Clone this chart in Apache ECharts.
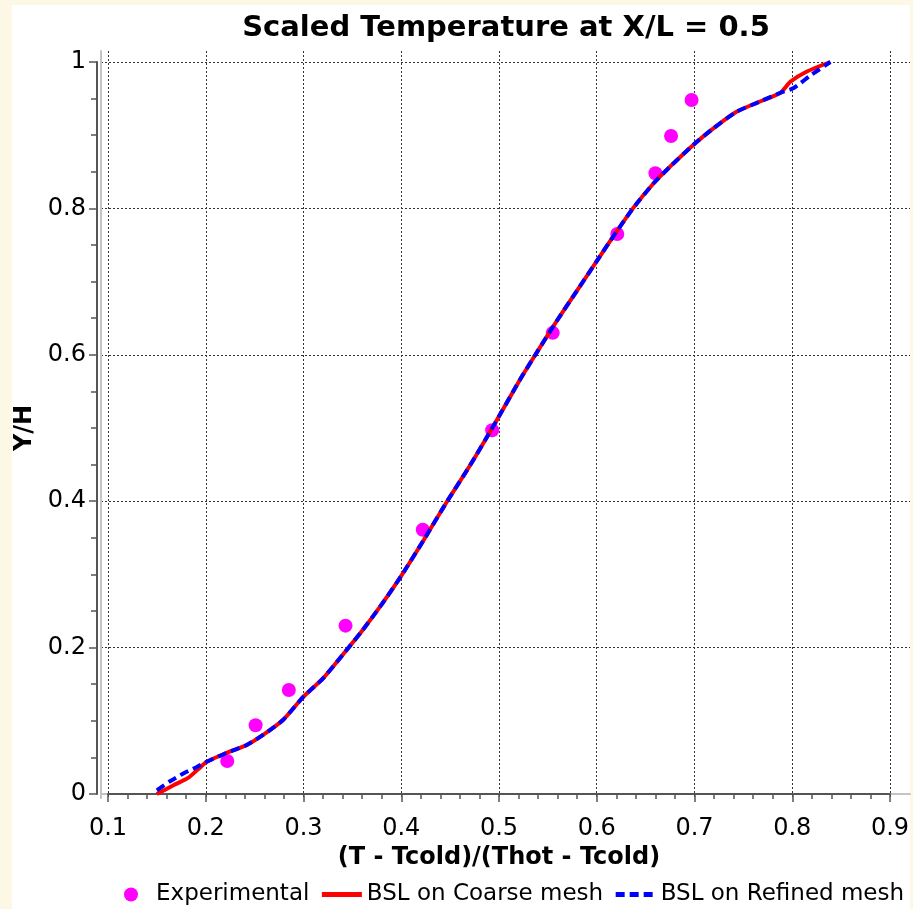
<!DOCTYPE html>
<html>
<head>
<meta charset="utf-8">
<script src="https://cdn.jsdelivr.net/npm/echarts@6/dist/echarts.min.js"></script>
<style>
html,body{margin:0;padding:0;background:#fdf8e6;}
#chart{width:913px;height:909px;}
</style>
</head>
<body>
<div id="chart"></div>
<script>
const titleText = 'Scaled Temperature at X/L = 0.5';
const xName = '(T - Tcold)/(Thot - Tcold)';
const yName = 'Y/H';
const seriesNames = ['Experimental', 'BSL on Coarse mesh', 'BSL on Refined mesh'];

const experimental = [
  [0.222, 0.045], [0.251, 0.094], [0.285, 0.142], [0.343, 0.230],
  [0.422, 0.361], [0.493, 0.497], [0.555, 0.630], [0.621, 0.765],
  [0.660, 0.848], [0.676, 0.899], [0.697, 0.948]
];

const coarse = [
  [0.150, 0.000], [0.167, 0.012], [0.182, 0.022], [0.194, 0.036], [0.201, 0.044],
  [0.221, 0.056], [0.242, 0.067], [0.259, 0.081], [0.279, 0.101], [0.300, 0.133],
  [0.320, 0.158], [0.340, 0.190], [0.360, 0.223], [0.380, 0.259], [0.400, 0.298],
  [0.423, 0.347], [0.447, 0.400], [0.470, 0.448], [0.494, 0.502], [0.521, 0.565],
  [0.540, 0.606], [0.557, 0.642], [0.580, 0.688], [0.600, 0.728], [0.614, 0.756],
  [0.637, 0.800], [0.658, 0.834], [0.675, 0.857], [0.699, 0.887], [0.719, 0.909],
  [0.743, 0.932], [0.767, 0.946], [0.788, 0.958], [0.798, 0.973], [0.815, 0.987],
  [0.839, 1.000]
];

const refined = [
  [0.150, 0.005], [0.163, 0.017], [0.177, 0.028], [0.191, 0.037], [0.201, 0.044],
  [0.221, 0.056], [0.242, 0.067], [0.259, 0.081], [0.279, 0.101], [0.300, 0.133],
  [0.320, 0.158], [0.340, 0.190], [0.360, 0.223], [0.380, 0.259], [0.400, 0.298],
  [0.423, 0.347], [0.447, 0.400], [0.470, 0.448], [0.494, 0.502], [0.521, 0.565],
  [0.540, 0.606], [0.557, 0.642], [0.580, 0.688], [0.600, 0.728], [0.614, 0.756],
  [0.637, 0.800], [0.658, 0.834], [0.675, 0.857], [0.699, 0.887], [0.719, 0.909],
  [0.743, 0.932], [0.767, 0.946], [0.788, 0.958], [0.801, 0.964], [0.818, 0.981],
  [0.839, 1.000]
];

const FONT = 'DejaVu Sans';
const gridLine = { show: true, showMinLine: false, showMaxLine: false,
  lineStyle: { color: '#333', width: 1, type: [2, 2] } };
const noSymbol = { color: 'rgba(0,0,0,0)', borderWidth: 0, borderColor: 'rgba(0,0,0,0)' };

const chart = echarts.init(document.getElementById('chart'), null, { renderer: 'canvas' });
chart.setOption({
  backgroundColor: '#fdf8e6',
  animation: false,
  graphic: [{
    type: 'rect', z: -10, silent: true,
    shape: { x: 12, y: 5, width: 898, height: 904 },
    style: { fill: '#ffffff' }
  }],
  title: {
    text: titleText, left: 501, top: 9, textAlign: 'center',
    textStyle: { fontFamily: FONT, fontWeight: 'bold', fontSize: 29, color: '#000' }
  },
  legend: {
    left: 124, top: 883, width: 820, padding: 0,
    itemWidth: 40, itemHeight: 14, itemGap: 10,
    data: [
      { name: seriesNames[0] },
      { name: seriesNames[1], itemStyle: noSymbol, lineStyle: { width: 5 } },
      { name: seriesNames[2], itemStyle: noSymbol, lineStyle: { width: 5 } }
    ],
    textStyle: { fontFamily: FONT, fontSize: 23, color: '#000' }
  },
  grid: [
    { left: 101, top: 51, width: 809, height: 747, show: false },
    { left: 108, top: 62, width: 782, height: 732, show: false }
  ],
  xAxis: [
    { type: 'value', gridIndex: 0, position: 'top',
      min: 0.1 - 7 / 977.5, max: 0.9 + 20 / 977.5, minInterval: 0.1, maxInterval: 0.1,
      axisLine: { show: true, lineStyle: { color: '#c4c4c4', width: 2 } },
      axisTick: { show: false }, axisLabel: { show: false }, splitLine: gridLine },
    { type: 'value', gridIndex: 1, position: 'bottom', offset: 13,
      min: 0.1, max: 0.9, interval: 0.1,
      name: xName, nameLocation: 'middle', nameGap: 38,
      nameTextStyle: { fontFamily: FONT, fontWeight: 'bold', fontSize: 24, color: '#000' },
      axisLine: { show: true, lineStyle: { color: '#555', width: 2 } },
      axisTick: { show: true, length: 8, lineStyle: { color: '#555', width: 1.5 } },
      minorTick: { show: true, splitNumber: 5, length: 5, lineStyle: { color: '#555', width: 1.5 } },
      axisLabel: { fontFamily: FONT, fontSize: 24, color: '#000', margin: 10 },
      splitLine: { show: false } }
  ],
  yAxis: [
    { type: 'value', gridIndex: 0, position: 'left',
      min: -4 / 732, max: 1 + 11 / 732, minInterval: 0.2, maxInterval: 0.2,
      axisLine: { show: true, lineStyle: { color: '#c4c4c4', width: 2 } },
      axisTick: { show: false }, axisLabel: { show: false }, splitLine: gridLine },
    { type: 'value', gridIndex: 1, position: 'left', offset: 11,
      min: 0, max: 1, interval: 0.2,
      name: yName, nameLocation: 'middle', nameGap: 44, nameRotate: 90,
      nameTextStyle: { fontFamily: FONT, fontWeight: 'bold', fontSize: 24, color: '#000' },
      axisLine: { show: true, lineStyle: { color: '#555', width: 2 } },
      axisTick: { show: true, length: 8, lineStyle: { color: '#555', width: 1.5 } },
      minorTick: { show: true, splitNumber: 4, length: 6, lineStyle: { color: '#555', width: 1.5 } },
      axisLabel: { fontFamily: FONT, fontSize: 24, color: '#000', margin: 11 },
      splitLine: { show: false } }
  ],
  series: [
    { name: seriesNames[0], type: 'scatter', xAxisIndex: 0, yAxisIndex: 0,
      data: experimental, symbol: 'circle', symbolSize: 14,
      itemStyle: { color: '#ff00ff', opacity: 1 }, z: 2 },
    { name: seriesNames[1], type: 'line', xAxisIndex: 0, yAxisIndex: 0,
      data: coarse, symbol: 'none', smooth: 0.2,
      lineStyle: { color: '#ff0000', width: 4 }, itemStyle: { color: '#ff0000' }, z: 3 },
    { name: seriesNames[2], type: 'line', xAxisIndex: 0, yAxisIndex: 0,
      data: refined, symbol: 'none', smooth: 0.2,
      lineStyle: { color: '#0000ff', width: 4, type: [9, 5] }, itemStyle: { color: '#0000ff' }, z: 4 }
  ]
});
</script>
</body>
</html>
